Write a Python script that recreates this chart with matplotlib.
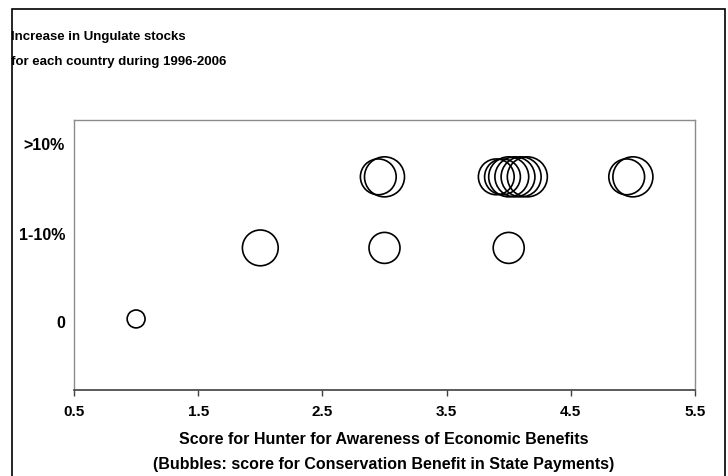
import numpy as np
import matplotlib
matplotlib.use('Agg')
import matplotlib.pyplot as plt
from matplotlib.patches import Rectangle

# ungulate stock increase vs hunter awareness score
# row: 1 = "0", 2 = "1-10%", 3 = ">10%"
awareness = [1.0, 2.0, 3.0, 4.0,
             2.95, 3.0, 3.9, 3.95, 4.0, 4.05, 4.1, 4.15, 4.95, 5.0]
stock_row = [1, 2, 2, 2,
             3, 3, 3, 3, 3, 3, 3, 3, 3, 3]
state_pay = [1, 4, 3, 3,
             4, 5, 4, 4, 5, 5, 5, 5, 4, 5]

row_labels = ['0', '1-10%', '>10%']
xticks = [0.5, 1.5, 2.5, 3.5, 4.5, 5.5]

plt.rcParams['font.family'] = ['Liberation Sans', 'DejaVu Sans']
plt.rcParams['font.weight'] = 'bold'

fig = plt.figure(figsize=(7.28, 4.77), dpi=100)
ax = fig.add_axes([74/728, 1-391/477, (695-74)/728, (391-121)/477])

ax.scatter(awareness, stock_row, s=np.array(state_pay)*166,
           facecolors='none', edgecolors='black', linewidths=1.2, zorder=3)

ax.set_xlim(0.5, 5.5)
ax.set_ylim(0, 3.8)
ax.set_xticks(xticks)
ax.set_xticklabels(['{:.1f}'.format(t) for t in xticks], fontsize=11, fontweight='bold')
ax.set_yticks([])
ax.tick_params(axis='x', direction='out', length=4, width=1, pad=6, color='#404040')

for side in ['left', 'top', 'right']:
    ax.spines[side].set_color('#8c8c8c')
    ax.spines[side].set_linewidth(1)
ax.spines['bottom'].set_color('#404040')
ax.spines['bottom'].set_linewidth(1.2)

# axis title, two lines
fig.text(384/728, 1-440/477, 'Score for Hunter for Awareness of Economic Benefits',
         ha='center', va='center', fontsize=11.5, fontweight='bold')
fig.text(384/728, 1-465/477, '(Bubbles: score for Conservation Benefit in State Payments)',
         ha='center', va='center', fontsize=11.5, fontweight='bold')

# category labels for the rows, placed as text boxes like the original
label_y = [323, 236, 145]
for lab, yy in zip(row_labels, label_y):
    fig.text(65/728, 1-yy/477, lab, ha='right', va='center',
             fontsize=11.5, fontweight='bold')

fig.text(11/728, 1-37/477, 'Increase in Ungulate stocks',
         ha='left', va='center', fontsize=9.5, fontweight='bold')
fig.text(11/728, 1-62/477, 'for each country during 1996-2006',
         ha='left', va='center', fontsize=9.5, fontweight='bold')

# outer chart frame
fig.patches.append(Rectangle((12/728, -0.1), (725-12)/728, 1-10/477+0.1,
                             transform=fig.transFigure, fill=False,
                             edgecolor='black', linewidth=1.2))

fig.savefig('out.png', dpi=100)
